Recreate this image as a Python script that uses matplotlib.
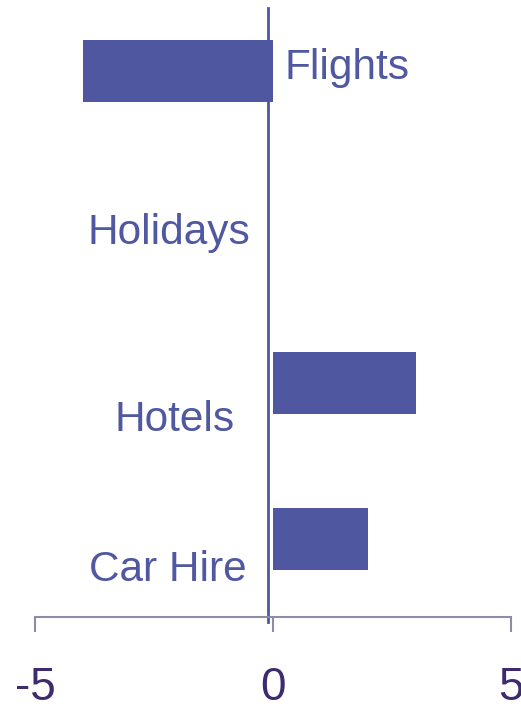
import matplotlib.pyplot as plt

# Nettowerte je Kategorie
categories = ["Flights", "Holidays", "Hotels", "Car Hire"]
values = [-4, 0, 3, 2]
xticks = [-5, 0, 5]

bar_color = "#4e57a0"
label_color = "#4f58a0"
tick_color = "#3d2a70"
axis_color = "#8c8ca8"

plt.rcParams['font.family'] = ['Liberation Sans', 'DejaVu Sans']

fig = plt.figure(figsize=(5.21, 7.08), dpi=100)
ax = fig.add_axes([35/521, 91/708, 476/521, 609/708])

pos = list(range(len(categories)))
ax.barh(pos, values, height=0.4, color=bar_color, linewidth=0)

ax.set_xlim(-5, 5)
ax.set_ylim(3.5, -0.404)

# Nulllinie, leicht links von den Balken
ax.axvline(-0.1, ymin=-0.008, ymax=1, color=bar_color, linewidth=2, clip_on=False)

# Beschriftungen neben der Nulllinie
label_x = [0.25, -0.48, -0.80, -0.55]
label_dy = [-0.02, 0.04, 0.24, 0.20]
for i, name in enumerate(categories):
    ha = "left" if values[i] < 0 else "right"
    ax.text(label_x[i], pos[i] + label_dy[i], name, ha=ha, va="center",
            fontsize=30.5, color=label_color)

ax.set_yticks([])
ax.set_xticks(xticks)
ax.set_xticklabels([str(t) for t in xticks])
for s in ["left", "right", "top"]:
    ax.spines[s].set_visible(False)
ax.spines["bottom"].set_color(axis_color)
ax.spines["bottom"].set_linewidth(1.5)
ax.tick_params(axis="x", direction="out", length=11, width=1.5, color=axis_color,
               labelsize=33, labelcolor=tick_color, pad=24)

fig.savefig("out.png", dpi=100)
